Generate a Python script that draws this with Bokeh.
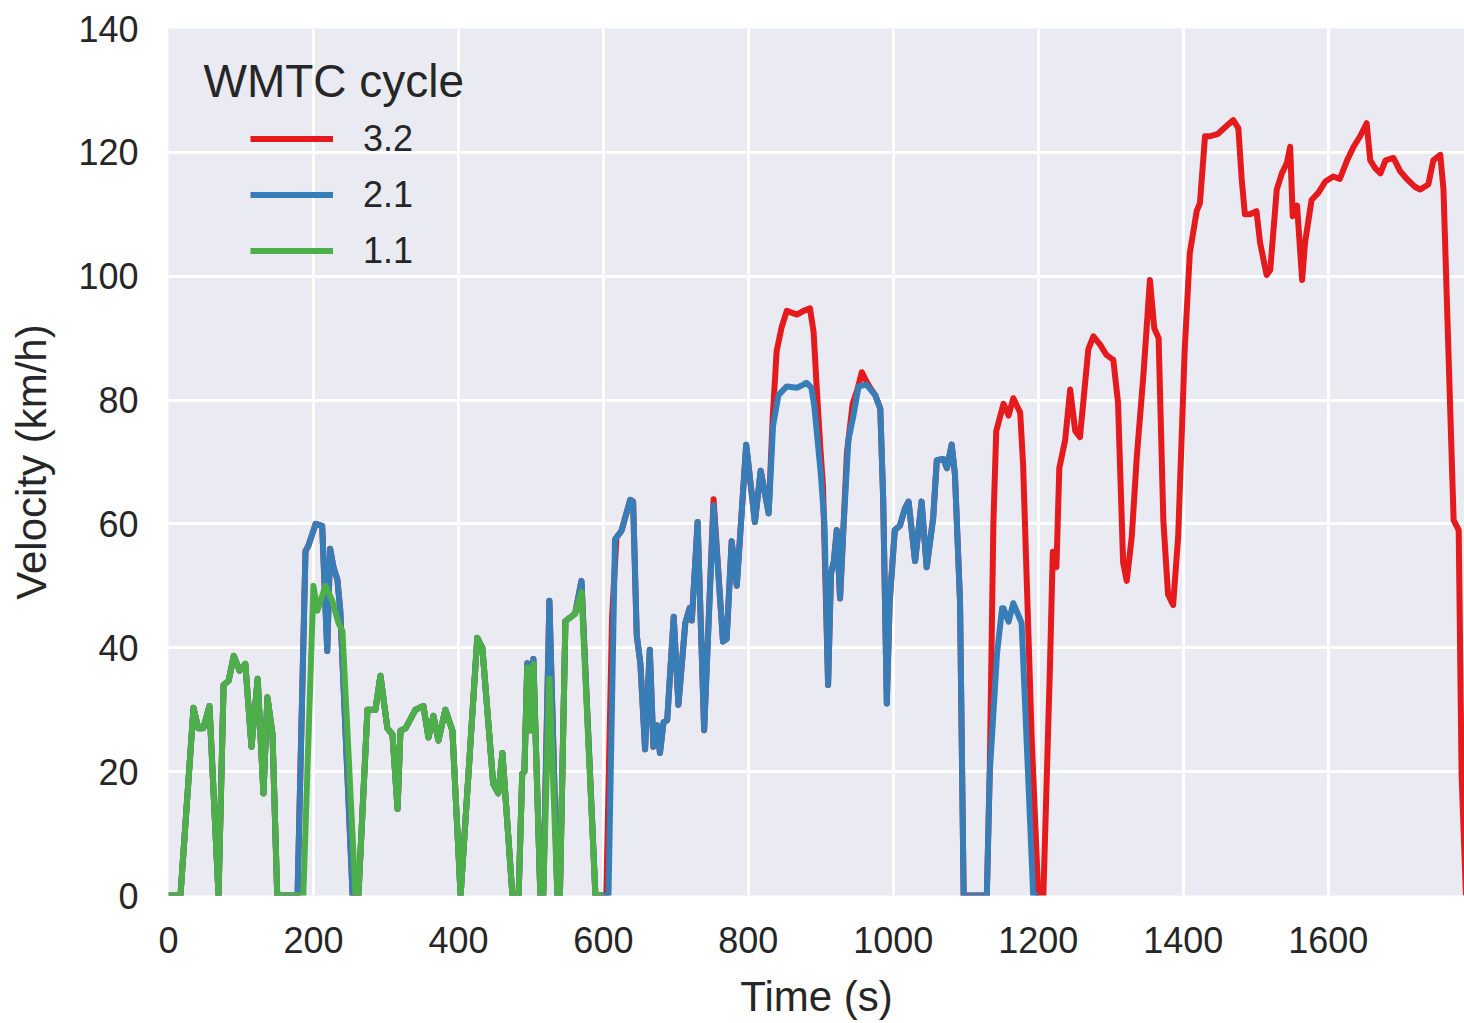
from bokeh.plotting import figure
from bokeh.models import Range1d, Legend, LegendItem, Label, FixedTicker
from bokeh.embed import file_html
from bokeh.resources import INLINE

# ---------------- data ----------------
x_ticks = [0, 200, 400, 600, 800, 1000, 1200, 1400, 1600, 1800]
y_ticks = [0, 20, 40, 60, 80, 100, 120, 140]

# Part 1 as driven in class 2.1 / 3.2 (0-600 s)
blue_p1_t = [0, 16.5, 34.5, 41, 48, 56.5, 69, 76, 83, 90, 98, 106, 114.5, 123, 131, 136.5, 143.5, 150,
             178, 189, 193, 203, 212, 219, 223, 227.6, 233, 237, 254, 262, 274.5, 285.5, 292.4, 302, 309,
             316, 320, 327, 340.7, 351.7, 358.6, 365.5, 372.4, 382, 391.7, 403, 426, 433, 448, 455,
             460.7, 474.5, 483, 488, 491, 495, 499, 503.4, 513, 517, 525.5, 536.5, 540, 547.6, 561,
             569.7, 589, 600]
blue_p1_v = [0, 0, 30.3, 27, 27, 30.6, 0, 34, 34.7, 38.7, 36.3, 37.4, 24, 35, 16.5, 32, 26, 0,
             0, 55.6, 56.5, 60, 59.7, 39.5, 56, 53, 51, 46, 0, 0, 30, 30, 35.5, 27, 26,
             14, 26.6, 27, 30, 30.6, 25.5, 29, 25, 30, 26.6, 0, 41.6, 40, 18, 16.5,
             23, 0, 0, 19.7, 20, 37.5, 27, 38.2, 0, 0, 47.6, 0, 0, 44.3, 45.5,
             50.8, 0, 0]

# Class 1.1 (0-600 s)
green_t = [0, 16.5, 34.5, 41, 48, 56.5, 69, 76, 83, 90, 98, 106, 114.5, 123, 131, 136.5, 143.5, 150,
           186, 200, 205.5, 216.5, 226, 234.5, 240, 258, 262, 274.5, 285.5, 292.4, 302, 309,
           316, 320, 327, 340.7, 351.7, 358.6, 365.5, 372.4, 382, 391.7, 403, 426, 433, 448, 455,
           460.7, 474.5, 483, 488, 491, 495, 499, 503.4, 513, 517, 525.5, 536.5, 540, 547.6, 561,
           569.7, 589, 600]
green_v = [0, 0, 30.3, 27, 27, 30.6, 0, 34, 34.7, 38.7, 36.3, 37.4, 24, 35, 16.5, 32, 26, 0,
           0, 50, 46, 50, 47.6, 44, 42.7, 0, 0, 30, 30, 35.5, 27, 26,
           14, 26.6, 27, 30, 30.6, 25.5, 29, 25, 30, 26.6, 0, 41.6, 40, 18, 16.5,
           23, 0, 0, 19.7, 20, 36.8, 26.6, 37.4, 0, 0, 35, 0, 0, 44.3, 45.5,
           49, 0, 0]

# Part 2, class 2.1 (600-1200 s)
blue_p2_t = [607, 616, 625, 637, 641, 646, 651, 657.5, 664, 669, 674, 678, 683, 688, 697, 703.5, 713,
             719, 722, 730, 739, 752, 765, 770, 777, 784, 797, 809, 817, 828, 834, 841.5, 853, 867,
             876, 880, 887, 891, 900, 905, 910, 914, 918, 922, 926.5, 931, 938, 945, 952, 963, 975,
             982, 986, 991, 995, 1002, 1009, 1016, 1021, 1030, 1039, 1046, 1055, 1060, 1069, 1074,
             1080.5, 1085, 1092, 1097, 1129, 1133, 1143, 1150, 1152, 1159, 1165.5, 1177, 1193, 1200]
blue_p2_v = [0, 57.5, 58.9, 63.9, 63.6, 42, 37.5, 23.6, 39.7, 24, 27.5, 23, 28, 28.3, 45, 30.8, 44,
             46.4, 44.4, 60.3, 26.7, 63, 41, 41.4, 57.2, 50, 72.8, 60.3, 68.6, 61.7, 75.8, 80.8, 82.2, 82,
             82.5, 82.8, 82, 79, 68, 60, 34, 52, 54, 59, 48, 59, 73.6, 77.5, 82.2, 82.5, 80.8,
             78.6, 64, 31, 47.5, 59, 59.7, 62.5, 63.6, 54, 63.6, 53, 61, 70.3, 70.5, 69,
             72.8, 68, 47.5, 0, 0, 19.7, 39, 46.4, 46.4, 44.2, 47.2, 44, 0, 0]

# Part 2, class 3.2 (600-1200 s)
red_p2_t = [604, 612, 618, 625, 637, 641, 646, 651, 657.5, 664, 669, 674, 678, 683, 688, 697, 703.5, 713,
            719, 722, 730, 739, 752, 765, 770, 777, 784, 797, 809, 817, 828, 833.7, 839, 846, 853, 867,
            876, 885, 890, 894, 899, 903, 910, 914, 918, 922, 926.5, 931, 936, 944, 950, 956.5, 963, 968,
            975, 982, 986, 991, 995, 1002, 1009, 1016, 1021, 1030, 1039, 1046, 1055, 1060, 1069, 1074,
            1080.5, 1085, 1092, 1097, 1129, 1133, 1138, 1142, 1152, 1159, 1165.5, 1175, 1179, 1191, 1200]
red_p2_v = [0, 45, 57.8, 58.9, 63.9, 63.6, 42, 37.5, 23.6, 39.7, 24, 27.5, 23, 28, 28.3, 45, 30.8, 44,
            46.4, 44.4, 60.3, 26.7, 64, 41, 41.4, 57.2, 50, 72.8, 60.3, 68.6, 61.7, 77.4, 87.9, 91.8, 94.4, 93.8,
            94.4, 94.8, 91, 82.6, 72.8, 66, 34, 52, 54, 59, 48, 59, 71.5, 79.5, 81.5, 84.5, 83, 82,
            80.8, 78.6, 64, 31, 47.5, 59, 59.7, 62.5, 63.6, 54, 63.6, 53, 61, 70.3, 70.5, 69,
            72.8, 68, 47.5, 0, 0, 20, 60, 75, 79.4, 77.5, 80.3, 78, 69.7, 25, 0]

# Part 3, class 3.2 (1200-1800 s)
red_p3_t = [1207, 1216, 1220, 1225, 1229, 1237, 1244, 1251, 1257.5, 1269, 1276, 1285, 1294, 1303.5,
            1310, 1317, 1322, 1329, 1336, 1345, 1354, 1360, 1366, 1372.5, 1379, 1386, 1393, 1402,
            1409, 1418.5, 1423, 1430, 1437, 1448, 1460, 1469, 1476, 1480.6, 1485, 1492, 1501, 1506,
            1515, 1520, 1529, 1536, 1543, 1547.5, 1551, 1557, 1564, 1568, 1577, 1586.5, 1596, 1607,
            1616, 1626, 1635, 1644, 1653, 1658, 1665, 1672, 1679, 1690, 1699, 1708.5, 1720, 1727,
            1738, 1745, 1754.6, 1759, 1768, 1773, 1780, 1784, 1790]
red_p3_v = [0, 36.6, 55.5, 53, 69, 73.5, 81.7, 75, 74, 88.2, 90.3, 89, 87.3, 86.5,
            79.6, 53.8, 50.8, 58, 71, 84, 99.4, 91.6, 90, 60.6, 48.6, 46.9, 58, 88.2,
            103.7, 110.5, 111.8, 122.6, 122.6, 123, 124.3, 125.2, 123.9, 115.7, 110, 110, 110.5, 105.4,
            100.2, 101, 114, 116.6, 118.3, 120.9, 109.7, 111.4, 99.4, 105.4, 112.3, 113.5, 115.3, 116.1,
            115.7, 118.7, 120.9, 122.6, 124.7, 118.7, 117.4, 116.6, 118.7, 119.1, 117, 115.7, 114.4, 114,
            114.8, 118.7, 119.6, 114, 79.6, 60.6, 59, 19.4, 0]

series_labels = ["3.2", "2.1", "1.1"]
series_colors = ["#e41a1c", "#377eb8", "#4daf4a"]

red_t = blue_p1_t + red_p2_t + red_p3_t
red_v = blue_p1_v + red_p2_v + red_p3_v
blue_t = blue_p1_t + blue_p2_t
blue_v = blue_p1_v + blue_p2_v

# ---------------- figure ----------------
FONT = "Liberation Sans"
TXT = "#262626"

p = figure(width=1464, height=1023, output_backend="svg", toolbar_location=None,
           x_range=Range1d(0, 1788), y_range=Range1d(0, 140),
           min_border_left=168, min_border_right=0, min_border_top=28, min_border_bottom=128)

p.background_fill_color = "#eaeaf2"
p.border_fill_color = "white"
p.outline_line_color = None

for ax in (p.xaxis[0], p.yaxis[0]):
    ax.axis_line_color = None
    ax.major_tick_line_color = None
    ax.minor_tick_line_color = None
    ax.major_label_text_font = FONT
    ax.major_label_text_font_size = "36px"
    ax.major_label_text_color = TXT
    ax.axis_label_text_font = FONT
    ax.axis_label_text_font_size = "42px"
    ax.axis_label_text_font_style = "normal"
    ax.axis_label_text_color = TXT

p.xaxis[0].ticker = FixedTicker(ticks=x_ticks)
p.yaxis[0].ticker = FixedTicker(ticks=y_ticks)
p.xaxis[0].axis_label = "Time (s)"
p.yaxis[0].axis_label = "Velocity (km/h)"
p.xaxis[0].major_label_standoff = 25
p.yaxis[0].major_label_standoff = 24
p.xaxis[0].axis_label_standoff = 17
p.yaxis[0].axis_label_standoff = 20

for g in (p.xgrid[0], p.ygrid[0]):
    g.grid_line_color = "white"
    g.grid_line_width = 3

lw = 6
r_red = p.line(red_t, red_v, color=series_colors[0], line_width=lw, line_join="round")
r_blue = p.line(blue_t, blue_v, color=series_colors[1], line_width=lw, line_join="round")
r_green = p.line(green_t, green_v, color=series_colors[2], line_width=lw, line_join="round")

legend = Legend(items=[LegendItem(label=series_labels[0], renderers=[r_red]),
                       LegendItem(label=series_labels[1], renderers=[r_blue]),
                       LegendItem(label=series_labels[2], renderers=[r_green])],
                location=(82, 617), padding=0, margin=0, spacing=1,
                glyph_width=83, glyph_height=55, label_height=55, label_standoff=30,
                label_text_font=FONT, label_text_font_size="36px", label_text_color=TXT,
                background_fill_alpha=0, border_line_alpha=0)
p.add_layout(legend)

title = Label(x=35, y=815, x_units="screen", y_units="screen", text="WMTC cycle",
              text_font=FONT, text_font_size="46px", text_color=TXT, text_baseline="middle")
p.add_layout(title)

open("out.html", "w").write(file_html(p, INLINE))
